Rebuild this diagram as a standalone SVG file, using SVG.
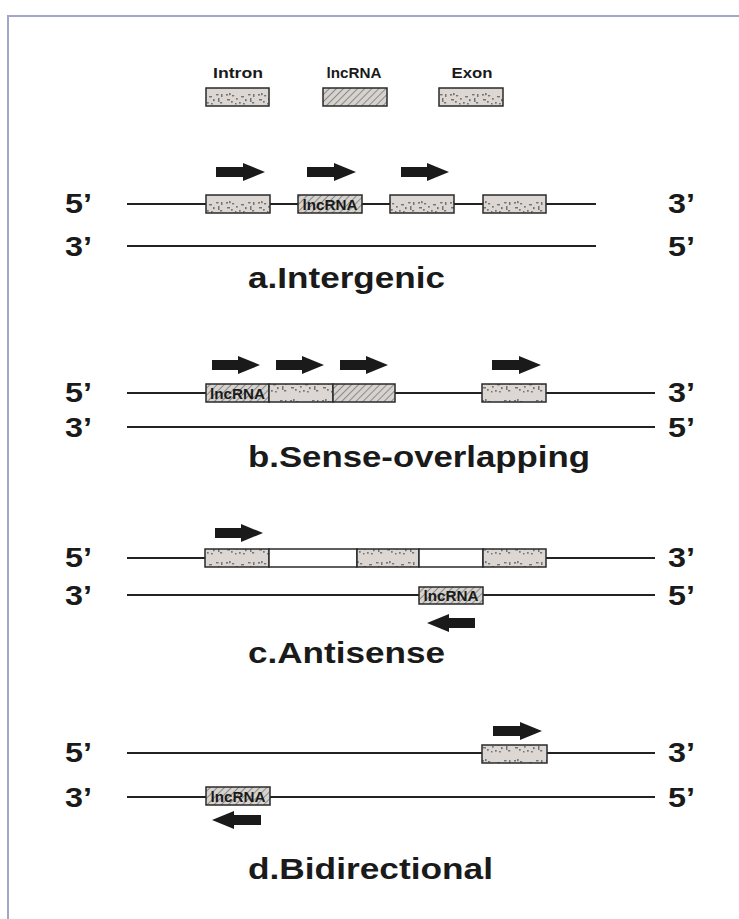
<svg xmlns="http://www.w3.org/2000/svg" width="739" height="919" viewBox="0 0 739 919">
<defs>
<pattern id="speck" patternUnits="userSpaceOnUse" width="32" height="18">
<rect width="32" height="18" fill="#dcd7d2"/>
<g fill="#747474">
<rect x="2" y="4" width="2" height="1.6"/><rect x="5" y="3" width="1.6" height="2.2"/><rect x="8" y="5" width="2.2" height="1.4"/>
<rect x="3" y="9" width="3" height="1.5"/><rect x="7" y="11" width="1.7" height="1.7"/><rect x="12" y="8" width="1.7" height="1.7"/>
<rect x="15" y="12" width="1.7" height="1.7"/><rect x="17" y="6" width="3" height="1.4"/><rect x="21" y="9" width="1.6" height="2.2"/>
<rect x="24" y="4" width="2.6" height="1.4"/><rect x="26" y="8" width="1.5" height="4"/><rect x="28" y="12" width="2.2" height="1.5"/>
<rect x="11" y="13" width="1.5" height="1.5"/><rect x="19" y="13" width="1.7" height="1.5"/><rect x="29" y="4" width="1.5" height="3"/>
</g>
</pattern>
<pattern id="hatch" patternUnits="userSpaceOnUse" width="5" height="5" patternTransform="rotate(45)">
<rect width="5" height="5" fill="#d6d2ce"/>
<line x1="0" y1="0" x2="0" y2="5" stroke="#777" stroke-width="1.6"/>
</pattern>
</defs>
<style>
.frame{fill:none;stroke:#a2a6c8;stroke-width:2}
.strand{stroke:#222;stroke-width:2.2;fill:none}
.box{stroke:#2a2a2a;stroke-width:1.5}
.sp{fill:url(#speck)}
.ht{fill:url(#hatch)}
.wh{fill:#fff}
.arr{fill:#1a1a1a}
.end{font-family:"Liberation Sans",Arial,sans-serif;font-weight:bold;font-size:28px;fill:#1a1a1a}
.title{font-family:"Liberation Sans",Arial,sans-serif;font-weight:bold;font-size:29px;fill:#1a1a1a}
.leg{font-family:"Liberation Sans",Arial,sans-serif;font-weight:bold;font-size:14px;fill:#1a1a1a;text-anchor:middle}
.inb{font-family:"Liberation Sans",Arial,sans-serif;font-weight:bold;font-size:14px;fill:#1a1a1a;text-anchor:middle}
</style>
<rect width="739" height="919" fill="#fff"/>
<rect class="frame" x="8" y="16" width="745" height="915"/>

<g id="legend">
<text class="leg" x="238" y="78" textLength="50" lengthAdjust="spacingAndGlyphs">Intron</text>
<text class="leg" x="354" y="78" textLength="55" lengthAdjust="spacingAndGlyphs">lncRNA</text>
<text class="leg" x="472" y="78" textLength="41" lengthAdjust="spacingAndGlyphs">Exon</text>
<rect id="legend-intron" class="box sp" x="206" y="88" width="63" height="18"/>
<rect id="legend-lncrna" class="box ht" x="323" y="88" width="64" height="18"/>
<rect id="legend-exon" class="box sp" x="439" y="88" width="64" height="18"/>
</g>

<g id="strands">
<line class="strand" x1="127" y1="204" x2="596" y2="204"/>
<line class="strand" x1="127" y1="246" x2="596" y2="246"/>
<line class="strand" x1="127" y1="393" x2="655" y2="393"/>
<line class="strand" x1="127" y1="427" x2="655" y2="427"/>
<line class="strand" x1="127" y1="558" x2="655" y2="558"/>
<line class="strand" x1="127" y1="595" x2="655" y2="595"/>
<line class="strand" x1="127" y1="753" x2="655" y2="753"/>
<line class="strand" x1="127" y1="797" x2="655" y2="797"/>
</g>

<g id="section-a">
<text class="end" x="65" y="213" textLength="27" lengthAdjust="spacingAndGlyphs">5’</text>
<text class="end" x="65" y="256" textLength="27" lengthAdjust="spacingAndGlyphs">3’</text>
<text class="end" x="668" y="213" textLength="27" lengthAdjust="spacingAndGlyphs">3’</text>
<text class="end" x="668" y="256" textLength="27" lengthAdjust="spacingAndGlyphs">5’</text>
<rect class="box sp" x="206" y="195" width="64" height="18"/>
<g id="a-lncrna"><rect class="box ht" x="298" y="195" width="64" height="18"/>
<text class="inb" x="330" y="209.5" textLength="55" lengthAdjust="spacingAndGlyphs">lncRNA</text></g>
<rect class="box sp" x="390" y="195" width="64" height="18"/>
<rect class="box sp" x="483" y="195" width="63" height="18"/>
<text class="title" x="248" y="288" textLength="197" lengthAdjust="spacingAndGlyphs">a.Intergenic</text>
</g>

<g id="section-b">
<text class="end" x="65" y="402" textLength="27" lengthAdjust="spacingAndGlyphs">5’</text>
<text class="end" x="65" y="437" textLength="27" lengthAdjust="spacingAndGlyphs">3’</text>
<text class="end" x="668" y="402" textLength="27" lengthAdjust="spacingAndGlyphs">3’</text>
<text class="end" x="668" y="437" textLength="27" lengthAdjust="spacingAndGlyphs">5’</text>
<g id="b-lncrna"><rect class="box ht" x="206" y="384" width="63" height="18"/>
<text class="inb" x="237.5" y="398.5" textLength="55" lengthAdjust="spacingAndGlyphs">lncRNA</text></g>
<rect class="box sp" x="269" y="384" width="64" height="18"/>
<rect class="box ht" x="333" y="384" width="62" height="18"/>
<rect class="box sp" x="482" y="384" width="64" height="18"/>
<text class="title" x="248" y="467" textLength="342" lengthAdjust="spacingAndGlyphs">b.Sense-overlapping</text>
</g>

<g id="section-c">
<text class="end" x="65" y="567" textLength="27" lengthAdjust="spacingAndGlyphs">5’</text>
<text class="end" x="65" y="605" textLength="27" lengthAdjust="spacingAndGlyphs">3’</text>
<text class="end" x="668" y="567" textLength="27" lengthAdjust="spacingAndGlyphs">3’</text>
<text class="end" x="668" y="605" textLength="27" lengthAdjust="spacingAndGlyphs">5’</text>
<rect class="box sp" x="205" y="549" width="64" height="18"/>
<rect class="box wh" x="269" y="549" width="88" height="18"/>
<rect class="box sp" x="357" y="549" width="62" height="18"/>
<rect class="box wh" x="419" y="549" width="64" height="18"/>
<rect class="box sp" x="483" y="549" width="63" height="18"/>
<g id="c-lncrna"><rect class="box ht" x="419" y="587" width="64" height="17"/>
<text class="inb" x="451" y="600.5" textLength="55" lengthAdjust="spacingAndGlyphs">lncRNA</text></g>
<text class="title" x="248" y="663" textLength="197" lengthAdjust="spacingAndGlyphs">c.Antisense</text>
</g>

<g id="section-d">
<text class="end" x="65" y="762" textLength="27" lengthAdjust="spacingAndGlyphs">5’</text>
<text class="end" x="65" y="807" textLength="27" lengthAdjust="spacingAndGlyphs">3’</text>
<text class="end" x="668" y="762" textLength="27" lengthAdjust="spacingAndGlyphs">3’</text>
<text class="end" x="668" y="807" textLength="27" lengthAdjust="spacingAndGlyphs">5’</text>
<rect class="box sp" x="482" y="745" width="65" height="18"/>
<g id="d-lncrna"><rect class="box ht" x="206" y="787" width="64" height="18"/>
<text class="inb" x="238" y="801.5" textLength="55" lengthAdjust="spacingAndGlyphs">lncRNA</text></g>
<text class="title" x="248" y="879" textLength="245" lengthAdjust="spacingAndGlyphs">d.Bidirectional</text>
</g>

<g id="connectors">
<path class="arr" d="M216 167 H243 V163 L265 172 L243 181 V177 H216 Z"/>
<path class="arr" d="M307 167 H334 V163 L356 172 L334 181 V177 H307 Z"/>
<path class="arr" d="M401 167 H427 V163 L449 172 L427 181 V177 H401 Z"/>
<path class="arr" d="M212 360 H238 V356 L260 365 L238 374 V370 H212 Z"/>
<path class="arr" d="M276 360 H302 V356 L324 365 L302 374 V370 H276 Z"/>
<path class="arr" d="M340 360 H366 V356 L388 365 L366 374 V370 H340 Z"/>
<path class="arr" d="M492 360 H519 V356 L541 365 L519 374 V370 H492 Z"/>
<path class="arr" d="M215 528 H241 V524 L263 533 L241 542 V538 H215 Z"/>
<path class="arr" d="M475 618 H449 V614 L427 623 L449 632 V628 H475 Z"/>
<path class="arr" d="M493 726 H520 V722 L542 731 L520 740 V736 H493 Z"/>
<path class="arr" d="M261 815 H234 V811 L212 820 L234 829 V825 H261 Z"/>
</g>
</svg>
